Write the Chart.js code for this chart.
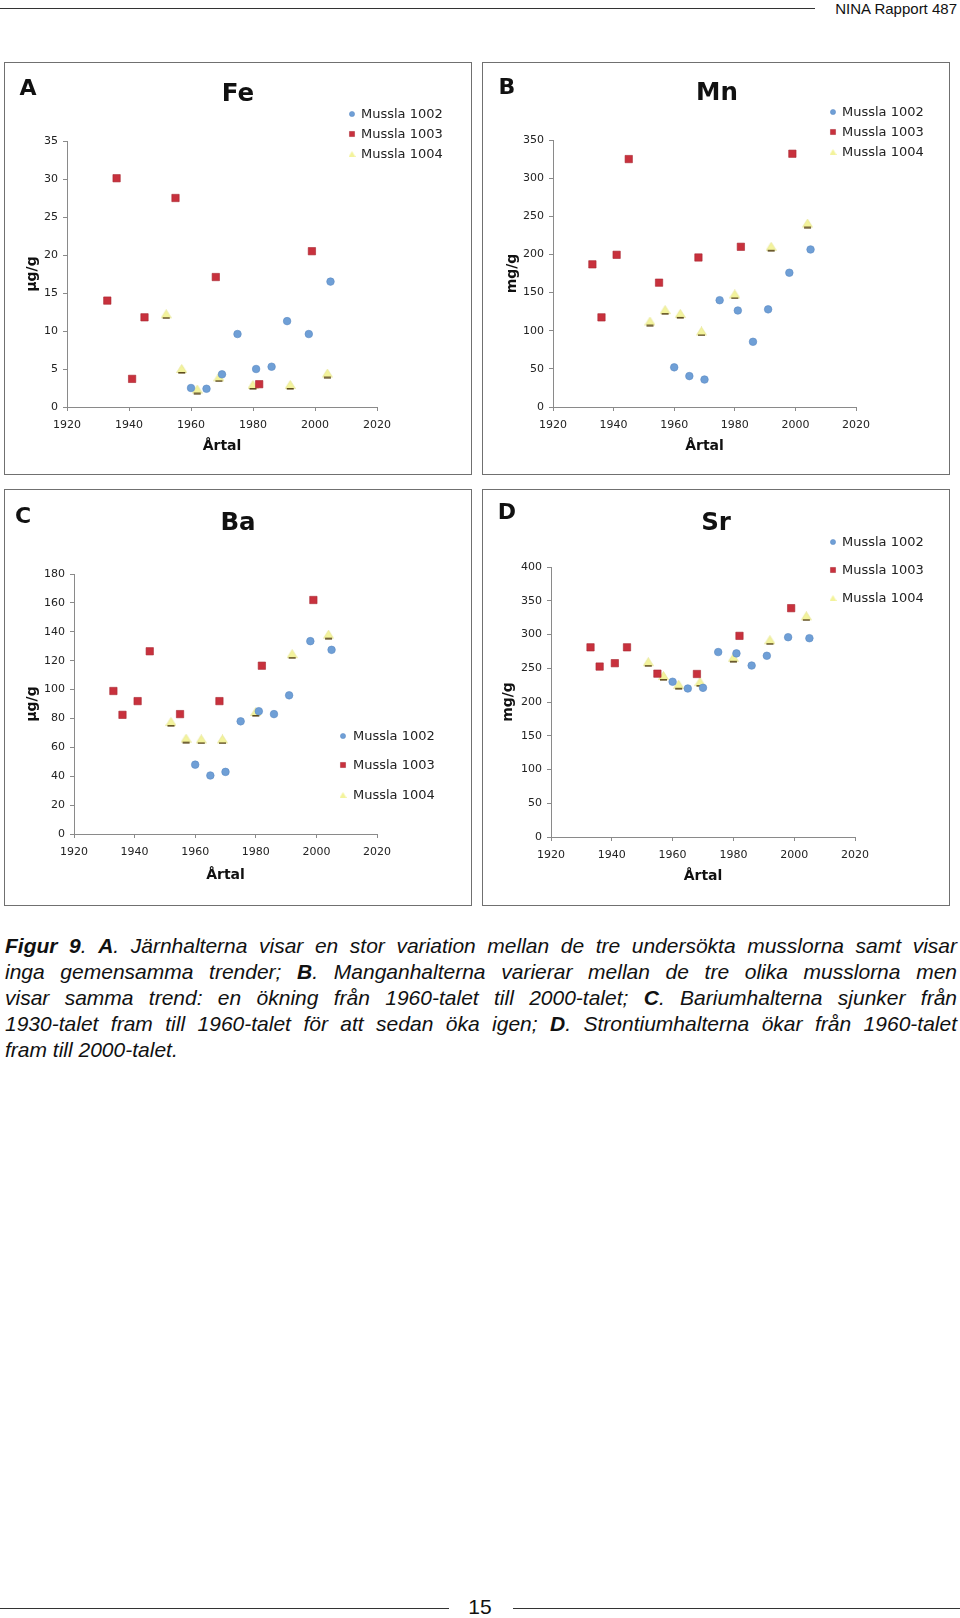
<!DOCTYPE html>
<html>
<head>
<meta charset="utf-8">
<script src="https://cdn.jsdelivr.net/npm/chart.js"></script>
<style>
html, body { margin: 0; padding: 0; background: #fff; }
body { width: 960px; height: 1618px; position: relative; overflow: hidden; font-family: "Liberation Sans", Arial, sans-serif; color: #111; }
.hline { position: absolute; height: 0; border-top: 1.5px solid #333; }
.panel { position: absolute; box-sizing: border-box; border: 1.5px solid #707070; }
.wrap { position: absolute; }
.lbl { position: absolute; font-family: "DejaVu Sans", Verdana, sans-serif; font-weight: bold; color: #111; transform: translate(-50%, -50%); line-height: 1; white-space: nowrap; }
.cap { position: absolute; left: 5px; top: 933px; width: 952px; font-style: italic; font-size: 21px; line-height: 26px; }
.cap div { white-space: nowrap; text-align: justify; text-align-last: justify; }
.cap div.last { text-align: left; text-align-last: left; }
</style>
</head>
<body>

<div class="hline" style="left:0; top:8px; width:815px;"></div>
<div style="position:absolute; right:3px; top:0; font-size:15px; line-height:18px;">NINA Rapport 487</div>

<div class="panel" style="left:4px; top:62px; width:468px; height:413px;"></div>
<div class="panel" style="left:482px; top:62px; width:468px; height:413px;"></div>
<div class="panel" style="left:4px; top:489px; width:468px; height:417px;"></div>
<div class="panel" style="left:482px; top:489px; width:468px; height:417px;"></div>

<div class="wrap" style="left:4px; top:62px; width:468px; height:413px;"><canvas id="feChart" width="468" height="413"></canvas></div>
<div class="wrap" style="left:482px; top:62px; width:468px; height:413px;"><canvas id="mnChart" width="468" height="413"></canvas></div>
<div class="wrap" style="left:4px; top:489px; width:468px; height:417px;"><canvas id="baChart" width="468" height="417"></canvas></div>
<div class="wrap" style="left:482px; top:489px; width:468px; height:417px;"><canvas id="srChart" width="468" height="417"></canvas></div>

<div class="lbl" style="left:28px; top:88px; font-size:22px;">A</div>
<div class="lbl" style="left:238px; top:93px; font-size:24.5px;">Fe</div>
<div class="lbl" style="left:507px; top:87px; font-size:22px;">B</div>
<div class="lbl" style="left:717px; top:92px; font-size:24.5px;">Mn</div>
<div class="lbl" style="left:23px; top:516px; font-size:22px;">C</div>
<div class="lbl" style="left:238px; top:522px; font-size:24.5px;">Ba</div>
<div class="lbl" style="left:507px; top:512px; font-size:22px;">D</div>
<div class="lbl" style="left:716px; top:522px; font-size:24.5px;">Sr</div>

<div class="cap">
  <div><b>Figur 9</b>. <b>A</b>. Järnhalterna visar en stor variation mellan de tre undersökta musslorna samt visar</div>
  <div>inga gemensamma trender; <b>B</b>. Manganhalterna varierar mellan de tre olika musslorna men</div>
  <div>visar samma trend: en ökning från 1960-talet till 2000-talet; <b>C</b>. Bariumhalterna sjunker från</div>
  <div>1930-talet fram till 1960-talet för att sedan öka igen; <b>D</b>. Strontiumhalterna ökar från 1960-talet</div>
  <div class="last">fram till 2000-talet.</div>
</div>

<div class="hline" style="left:0; top:1608px; width:449px;"></div>
<div class="hline" style="left:513px; top:1608px; width:447px;"></div>
<div style="position:absolute; left:440px; width:80px; text-align:center; top:1595px; font-size:21px; line-height:24px;">15</div>

<script>
// sample years per mussel
const years1002 = [1960, 1965, 1970, 1975, 1981, 1986, 1991, 1998, 2005];
const years1003 = [1933, 1936, 1941, 1945, 1955, 1968, 1982, 1999];
const years1004 = [1952, 1957, 1962, 1969, 1980, 1992, 2004];
const seriesNames = ['Mussla 1002', 'Mussla 1003', 'Mussla 1004'];

// Fe, µg/g
const fe1002 = [2.5, 2.4, 4.3, 9.6, 5.0, 5.3, 11.3, 9.6, 16.5];
const fe1003 = [14.0, 30.1, 3.7, 11.8, 27.5, 17.1, 3.0, 20.5];
const fe1004 = [12.2, 5.0, 2.3, 3.9, 2.9, 2.9, 4.4];

// Mn, mg/g
const mn1002 = [52, 40.5, 36, 140, 126.5, 85.5, 128, 176, 206.5];
const mn1003 = [187, 117.5, 199.5, 325, 163, 196, 210, 332];
const mn1004 = [112, 127, 122, 99, 147.5, 210, 240.5];

// Ba, µg/g
const ba1002 = [48, 40.5, 43, 78, 85, 83, 96, 133.5, 127.5];
const ba1003 = [99, 82.5, 92, 126.5, 83, 92, 116.5, 162];
const ba1004 = [77.5, 66, 65.5, 65.5, 84.5, 124.5, 138];

// Sr, mg/g
const sr1002 = [230, 220, 221, 274, 272, 254, 268.5, 296, 294.5];
const sr1003 = [281, 252.5, 257.5, 281, 242, 241.5, 298, 339];
const sr1004 = [259, 238.5, 225.5, 229.5, 265.5, 291.5, 327];

// axis ranges: [min, max, step]
const xRange = [1920, 2020, 20];
const feRange = [0, 35, 5];
const mnRange = [0, 350, 50];
const baRange = [0, 180, 20];
const srRange = [0, 400, 50];

// pale yellow triangle with a dark base, like the Excel marker
function triangleMarker(w, h) {
  const c = document.createElement('canvas');
  c.width = w; c.height = h;
  const g = c.getContext('2d');
  g.fillStyle = '#f3f39c';
  g.strokeStyle = '#e2e08a';
  g.lineWidth = 0.6;
  g.beginPath();
  g.moveTo(w / 2, 0.5);
  g.lineTo(w - 0.5, h - 1.5);
  g.lineTo(0.5, h - 1.5);
  g.closePath();
  g.fill();
  g.stroke();
  g.strokeStyle = '#5e4b1c';
  g.lineWidth = 1.6;
  g.beginPath();
  g.moveTo(2, h - 1.2);
  g.lineTo(w - 2, h - 1.2);
  g.stroke();
  return c;
}
const triBig = triangleMarker(11, 10);
const triSmall = (function () {
  const c = document.createElement('canvas');
  c.width = 7; c.height = 6;
  const g = c.getContext('2d');
  g.fillStyle = '#f3f39c';
  g.beginPath(); g.moveTo(3.5, 0); g.lineTo(7, 6); g.lineTo(0, 6); g.closePath(); g.fill();
  return c;
})();

const markerStyles = [
  { pointStyle: 'circle', radius: 3.8, bg: '#6f9fd6', border: '#5b89c2', legendRadius: 2.6 },
  { pointStyle: 'rect', radius: 5.2, bg: '#c8313d', border: '#a82631', legendRadius: 3.6 },
  { pointStyle: triBig, radius: 5, bg: '#f3f39c', border: '#f3f39c', legendStyle: triSmall, legendRadius: 3 }
];

function toPoints(xs, ys) {
  return xs.map((x, i) => ({ x: x, y: ys[i] }));
}

// legend drawn at fixed spots inside the panel
const panelLegend = {
  id: 'panelLegend',
  afterDraw(chart, args, opts) {
    const ctx = chart.ctx;
    ctx.save();
    ctx.font = '13px "DejaVu Sans", Verdana, sans-serif';
    ctx.textBaseline = 'middle';
    ctx.textAlign = 'left';
    chart.data.datasets.forEach((ds, i) => {
      const m = markerStyles[i];
      const y = opts.rows[i];
      ctx.fillStyle = m.bg;
      ctx.strokeStyle = m.border;
      ctx.lineWidth = 0.5;
      Chart.helpers.drawPoint(ctx, {
        pointStyle: m.legendStyle || m.pointStyle,
        radius: m.legendRadius,
        rotation: 0,
        borderWidth: 0.5
      }, opts.mx, y);
      ctx.fillStyle = '#222';
      ctx.fillText(ds.label, opts.tx, y + 0.5);
    });
    ctx.restore();
  }
};

function makePanel(id, s1002, s1003, s1004, yRange, yTitle, lay) {
  const sets = [
    toPoints(years1002, s1002),
    toPoints(years1003, s1003),
    toPoints(years1004, s1004)
  ];
  const W = lay.w, H = lay.h;
  const tickFont = { family: '"DejaVu Sans", Verdana, sans-serif', size: 11 };
  const titleFont = { family: '"DejaVu Sans", Verdana, sans-serif', size: 14, weight: 'bold', lineHeight: 1.2 };
  new Chart(document.getElementById(id), {
    type: 'scatter',
    data: {
      datasets: sets.map((pts, i) => ({
        label: seriesNames[i],
        data: pts,
        pointStyle: markerStyles[i].pointStyle,
        pointRadius: markerStyles[i].radius,
        pointBackgroundColor: markerStyles[i].bg,
        pointBorderColor: markerStyles[i].border,
        pointBorderWidth: 0.6
      }))
    },
    options: {
      responsive: false,
      animation: false,
      events: [],
      layout: { padding: { left: 0, top: lay.t, right: W - lay.r, bottom: 0 } },
      plugins: {
        legend: { display: false },
        tooltip: { enabled: false },
        panelLegend: lay.legend
      },
      scales: {
        x: {
          type: 'linear',
          min: xRange[0], max: xRange[1],
          ticks: { stepSize: xRange[2], font: tickFont, color: '#222', padding: 8, maxRotation: 0,
                   callback: v => String(v) },
          grid: { drawOnChartArea: false, drawTicks: true, tickLength: 4, color: '#8a8a8a' },
          border: { color: '#8a8a8a', width: 1 },
          title: { display: true, text: 'Årtal', font: titleFont, color: '#111',
                   padding: { top: 0, bottom: H - lay.xTitleY - 8.4 } },
          afterFit(scale) { scale.height = H - lay.b; }
        },
        y: {
          type: 'linear',
          min: yRange[0], max: yRange[1],
          ticks: { stepSize: yRange[2], font: tickFont, color: '#222', padding: 5 },
          grid: { drawOnChartArea: false, drawTicks: true, tickLength: 4, color: '#8a8a8a' },
          border: { color: '#8a8a8a', width: 1 },
          title: { display: true, text: yTitle, font: titleFont, color: '#111',
                   padding: { top: lay.yTitleX - 8.4, bottom: 0 } },
          afterFit(scale) { scale.width = lay.l; }
        }
      }
    },
    plugins: [panelLegend]
  });
}

makePanel('feChart', fe1002, fe1003, fe1004, feRange, 'µg/g',
  { w: 468, h: 413, l: 63, r: 373, t: 79, b: 345, yTitleX: 28, xTitleY: 384,
    legend: { mx: 348, tx: 357, rows: [52, 72, 92] } });
makePanel('mnChart', mn1002, mn1003, mn1004, mnRange, 'mg/g',
  { w: 468, h: 413, l: 71, r: 374, t: 78, b: 345, yTitleX: 30, xTitleY: 384,
    legend: { mx: 351, tx: 360, rows: [50, 70, 90] } });
makePanel('baChart', ba1002, ba1003, ba1004, baRange, 'µg/g',
  { w: 468, h: 417, l: 70, r: 373, t: 85, b: 345, yTitleX: 28, xTitleY: 386,
    legend: { mx: 339, tx: 349, rows: [247, 276, 306] } });
makePanel('srChart', sr1002, sr1003, sr1004, srRange, 'mg/g',
  { w: 468, h: 417, l: 69, r: 373, t: 78, b: 348, yTitleX: 26, xTitleY: 387,
    legend: { mx: 351, tx: 360, rows: [53, 81, 109] } });
</script>
</body>
</html>
